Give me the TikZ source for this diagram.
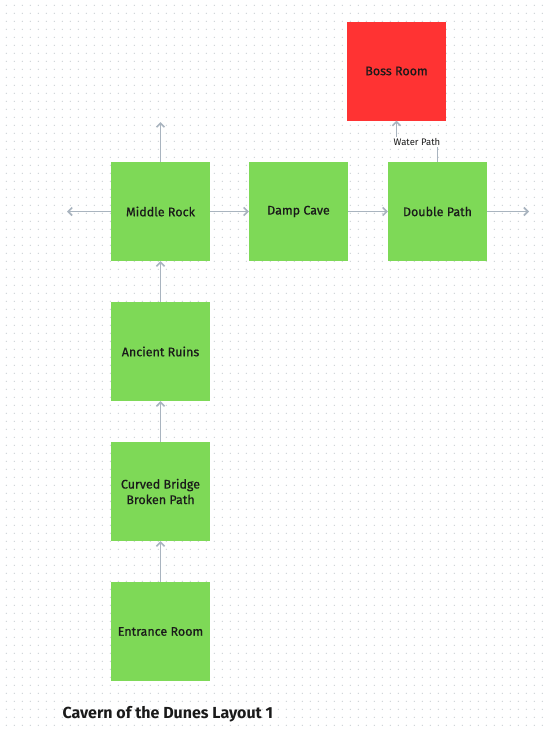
\documentclass[tikz,border=0pt]{standalone}
\usepackage{fontspec}
\setmainfont{Fira Sans}
\newfontfamily\medfont{Fira Sans}[FakeBold=0.6]
\usetikzlibrary{arrows.meta}
\definecolor{roomgreen}{HTML}{7ED957}
\definecolor{bossred}{HTML}{FF3333}
\definecolor{linkgray}{HTML}{A9B4BF}
\definecolor{dotgray}{HTML}{CDD2D7}
\definecolor{inkc}{HTML}{1A1A1A}
\tikzset{
  room/.style={draw=none, fill=roomgreen, minimum width=99pt, minimum height=99pt,
    inner sep=0pt, align=center, text=inkc, font=\medfont\fontsize{12.5}{15.5}\selectfont},
  bossroom/.style={room, fill=bossred},
  link/.style={draw=linkgray, line width=1.8pt, -{Straight Barb[length=4pt,width=8pt,line width=1.6pt]}},
  lbl/.style={fill=white, inner sep=1pt, text=inkc, font=\fontsize{9.5}{11}\selectfont},
}
\begin{document}
\begin{tikzpicture}[x=1pt,y=-1pt]
\useasboundingbox (0,0) rectangle (545,731);
\fill[white] (0,0) rectangle (545,731);
% dot grid
\foreach \i in {0,...,67}{
  \foreach \j in {0,...,91}{
    \fill[dotgray] (6.3+8*\i,5.3+8*\j) circle (0.7);
  }
}
% rooms
\node[room] (mid) at (160.5,211.5) {Middle Rock};
\node[room] (damp) at (298.5,211.5) {Damp Cave};
\node[room] (dbl) at (437.5,211.5) {Double Path};
\node[bossroom] (boss) at (396.5,71) {Boss Room};
\node[room] (ruins) at (160.5,351.5) {Ancient Ruins};
\node[room] (bridge) at (160.5,491.5) {Curved Bridge\\Broken Path};
\node[room] (entr) at (160.5,631.5) {Entrance Room};
% free ends
\coordinate (midup) at (160.5,122);
\coordinate (midleft) at (67,211.5);
\coordinate (dblright) at (529,211.5);
% connectors
\draw[link] (entr) -- (bridge);
\draw[link] (bridge) -- (ruins);
\draw[link] (ruins) -- (mid);
\draw[link] (mid.north) -- (midup);
\draw[link] (mid.west) -- (midleft);
\draw[link] (mid) -- (damp);
\draw[link] (damp) -- (dbl);
\draw[link] (dbl.east) -- (dblright);
\draw[link] (dbl.north) |- (417,142) -| (boss.south);
\node[lbl] (wp) at (417,142) {Water Path};
% title
\node[anchor=west, text=inkc, font=\bfseries\fontsize{16}{19}\selectfont] (title) at (59,714) {Cavern of the Dunes Layout 1};
\end{tikzpicture}
\end{document}
